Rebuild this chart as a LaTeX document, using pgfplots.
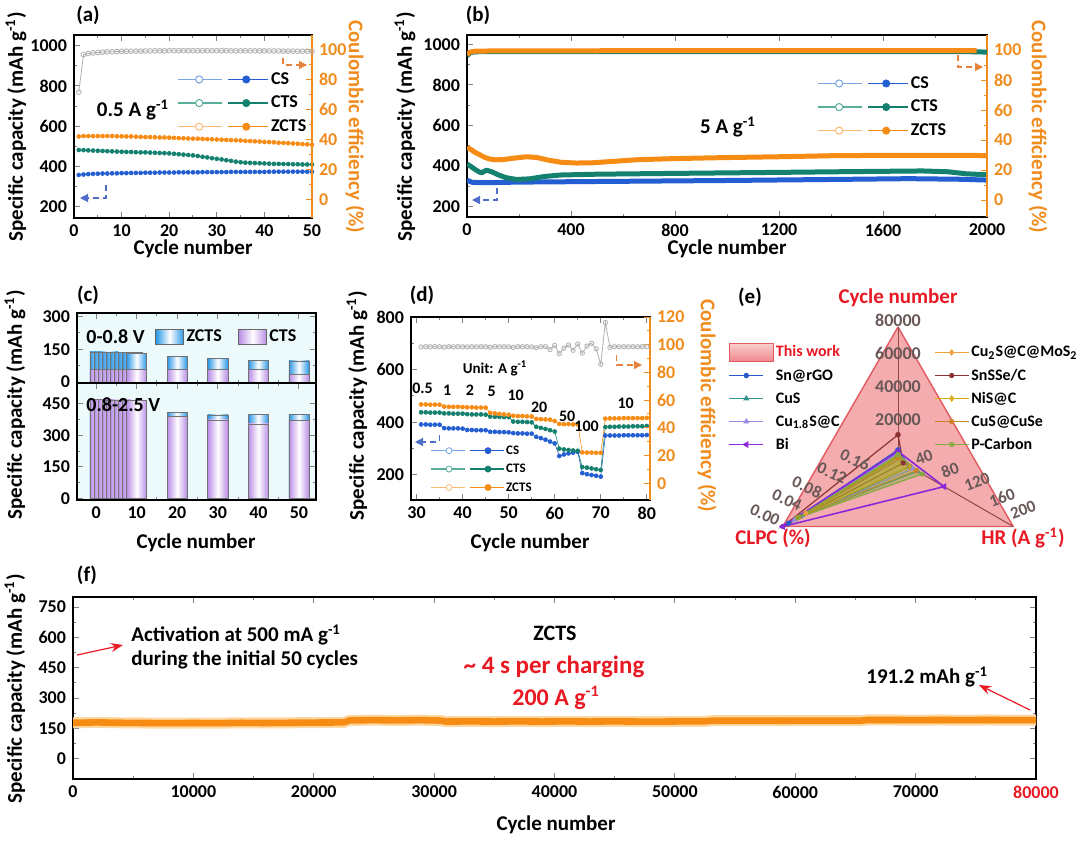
\documentclass[border=0pt]{standalone}
\usepackage{fontspec}
\setmainfont{Carlito}
\usepackage{pgfplots}
\usepackage{pgfplotstable}
\pgfplotsset{compat=1.18}
\usepgfplotslibrary{polar}
\usetikzlibrary{arrows.meta}

\definecolor{csblue}{RGB}{35,95,210}
\definecolor{csblueL}{RGB}{120,165,230}
\definecolor{ctsteal}{RGB}{20,128,110}
\definecolor{ctstealL}{RGB}{90,175,155}
\definecolor{zorange}{RGB}{247,140,20}
\definecolor{zorangeL}{RGB}{250,185,115}
\definecolor{zglow}{RGB}{255,215,160}
\definecolor{cegray}{RGB}{175,175,175}
\definecolor{axor}{RGB}{240,140,30}
\definecolor{zblue}{RGB}{40,150,230}
\definecolor{cpurple}{RGB}{185,140,230}
\definecolor{cbg}{RGB}{236,250,252}
\definecolor{thisred}{RGB}{225,90,95}
\definecolor{thispink}{RGB}{244,172,174}
\definecolor{thispinkL}{RGB}{250,205,205}
\definecolor{thispinkD}{RGB}{238,135,140}
\definecolor{spoke}{RGB}{150,70,70}
\definecolor{elab}{RGB}{105,88,88}
\definecolor{myred}{RGB}{232,25,35}
\definecolor{arrblue}{RGB}{80,110,200}
\definecolor{arror}{RGB}{230,130,60}
\definecolor{mSn}{RGB}{40,90,200}
\definecolor{mCuS}{RGB}{50,150,140}
\definecolor{mCuoneS}{RGB}{150,140,230}
\definecolor{mBi}{RGB}{140,40,220}
\definecolor{mCuMo}{RGB}{240,160,60}
\definecolor{mSnSSe}{RGB}{140,50,50}
\definecolor{mNiS}{RGB}{220,170,0}
\definecolor{mCuSe}{RGB}{205,130,40}
\definecolor{mPC}{RGB}{130,170,60}

\pgfplotstableread{
x y
0 178
2000 180
4000 178
6000 177
8000 176
10000 177
12000 176
14000 178
16000 177
18000 178
20000 179
22500 180
23000 190
25000 191
27000 190
29000 191
30500 189
31000 184
33000 185
35000 184
37000 185
39000 184
41000 185
43000 184
45000 185
47000 184
49000 184
51000 185
52500 185
53000 188
55000 189
57000 189
59000 188
61000 189
63000 189
65500 189
66000 192
68000 192
70000 191
72000 192
74000 191
76000 192
78000 191
80000 191.2
}\fdata

\newcommand{\tickfont}{\bfseries\fontsize{9}{10}\selectfont}
\newcommand{\labfont}{\bfseries\fontsize{10.5}{12}\selectfont}
\newcommand{\radfont}{\bfseries\fontsize{8.5}{9}\selectfont}
\tikzset{lab/.style={font=\labfont, inner sep=0.5pt}}

\pgfplotsset{
  myaxis/.style={scale only axis, anchor=north west,
    tick label style={font=\tickfont},
    /pgf/number format/assume math mode=true,
    /pgf/number format/1000 sep={},
    scaled ticks=false,
    tick align=inside, major tick length=3pt, minor tick length=1.6pt,
    axis line style={line width=0.7pt},
    every tick/.append style={line width=0.5pt},
    legend cell align=left,
  },
  rightaxis/.style={axis x line=none, axis y line*=right,
    y axis line style={axor, line width=0.7pt},
    ytick style={axor, line width=0.5pt},
    yticklabel style={text=axor}},
  legA/.style n args={2}{legend image code/.code={%
     \draw[#2, line width=0.8pt] (0pt,0pt) -- (22pt,0pt);
     \draw[#1, line width=0.8pt] (25pt,0pt) -- (45pt,0pt);
     \draw[#2, fill=white, line width=0.5pt] (10.5pt,0pt) circle (1.8pt);
     \fill[#1] (34pt,0pt) circle (1.8pt);}},
  legD/.style n args={2}{legend image code/.code={%
     \draw[#2, line width=0.6pt] (0pt,0pt) -- (17pt,0pt);
     \draw[#1, line width=0.6pt] (19.5pt,0pt) -- (36.5pt,0pt);
     \draw[#2, fill=white, line width=0.4pt] (9pt,0pt) circle (1.5pt);
     \fill[#1] (28.5pt,0pt) circle (1.5pt);}},
  zb/.style={forget plot, ybar, bar width=5, bar shift=0pt, draw=black!55, line width=0.3pt,
     left color=zblue, right color=zblue, middle color=white},
  cb/.style={forget plot, ybar, bar width=5, bar shift=0pt, draw=black!55, line width=0.3pt,
     left color=cpurple, right color=cpurple, middle color=white},
}

\begin{document}
\begin{tikzpicture}
\useasboundingbox (0pt,0pt) rectangle (540pt,-420pt);

% ---------------- (a) ----------------
\begin{axis}[myaxis, at={(37pt,-17.5pt)}, width=119pt, height=91.5pt,
  xmin=0, xmax=50, ymin=144, ymax=1053,
  xtick={0,10,20,30,40,50}, minor x tick num=1,
  ytick={200,400,600,800,1000}, minor y tick num=1, ytick pos=left,
  legend style={at={(0.433,0.628)}, anchor=west, draw=none, fill=none, inner sep=0pt,
    row sep=2pt, font=\bfseries\fontsize{9}{10}\selectfont,
    nodes={inner sep=1pt, text height=6.3pt, text depth=1.5pt}}]
\addplot[forget plot, csblue, line width=0.3pt, mark=*, mark size=1pt] coordinates {
(1,358)(2,360)(3,362)(4,363)(5,364)(6,365)(7,365)(8,366)(9,366)(10,367)(11,367)(12,368)(13,368)(14,368)(15,369)(16,369)(17,369)(18,370)(19,370)(20,370)(21,370)(22,371)(23,371)(24,371)(25,371)(26,371)(27,372)(28,372)(29,372)(30,372)(31,372)(32,372)(33,373)(34,373)(35,373)(36,373)(37,373)(38,373)(39,373)(40,373)(41,374)(42,374)(43,374)(44,374)(45,374)(46,374)(47,374)(48,374)(49,374)(50,374)};
\addplot[forget plot, ctsteal, line width=0.3pt, mark=*, mark size=1pt] coordinates {
(1,482)(2,481)(3,480)(4,479)(5,478)(6,477)(7,476)(8,475)(9,474)(10,473)(11,472)(12,472)(13,471)(14,470)(15,470)(16,469)(17,468)(18,467)(19,466)(20,465)(21,463)(22,461)(23,459)(24,457)(25,455)(26,452)(27,448)(28,445)(29,441)(30,438)(31,435)(32,431)(33,428)(34,424)(35,421)(36,419)(37,418)(38,417)(39,416)(40,415)(41,414)(42,413)(43,413)(44,412)(45,412)(46,411)(47,411)(48,410)(49,410)(50,410)};
\addplot[forget plot, zorange, line width=0.3pt, mark=*, mark size=1pt] coordinates {
(1,549)(2,551)(3,551)(4,551)(5,551)(6,551)(7,551)(8,551)(9,550)(10,550)(11,549)(12,549)(13,548)(14,547)(15,546)(16,546)(17,545)(18,544)(19,544)(20,543)(21,542)(22,541)(23,540)(24,539)(25,538)(26,538)(27,537)(28,536)(29,535)(30,534)(31,533)(32,532)(33,531)(34,530)(35,529)(36,527)(37,526)(38,525)(39,524)(40,522)(41,521)(42,520)(43,518)(44,517)(45,516)(46,514)(47,513)(48,511)(49,510)(50,508)};
\addlegendimage{legA={csblue}{csblueL}}\addlegendentry{CS}
\addlegendimage{legA={ctsteal}{ctstealL}}\addlegendentry{CTS}
\addlegendimage{legA={zorange}{zorangeL}}\addlegendentry{ZCTS}
\end{axis}
\begin{axis}[myaxis, rightaxis, at={(37pt,-17.5pt)}, width=119pt, height=91.5pt,
  xmin=0, xmax=50, ymin=-12, ymax=109.5, ytick={0,20,40,60,80,100}, minor y tick num=1]
\addplot[cegray, line width=0.4pt, mark=o, mark size=1.2pt, mark options={fill=white}] coordinates {
(1,71.5)(2,96.5)(3,97.2)(4,97.6)(5,97.9)(6,98.1)(7,98.3)(8,98.4)(9,98.5)(10,98.6)(11,98.7)(12,98.7)(13,98.8)(14,98.8)(15,98.9)(16,98.9)(17,99)(18,99)(19,99)(20,99.1)(21,99.1)(22,99.1)(23,99.1)(24,99.1)(25,99.1)(26,99.1)(27,99.1)(28,99.1)(29,99.1)(30,99.1)(31,99.1)(32,99.1)(33,99)(34,99)(35,99)(36,99)(37,99)(38,99)(39,99)(40,99)(41,98.9)(42,98.9)(43,98.9)(44,98.8)(45,98.8)(46,98.8)(47,98.7)(48,98.7)(49,98.7)(50,98.6)};
\end{axis}

% ---------------- (b) ----------------
\begin{axis}[myaxis, at={(233.5pt,-17.5pt)}, width=260pt, height=91pt,
  xmin=0, xmax=2000, ymin=149, ymax=1046,
  xtick={0,400,800,1200,1600,2000}, minor x tick num=1,
  ytick={200,400,600,800,1000}, minor y tick num=1, ytick pos=left,
  legend style={at={(0.673,0.604)}, anchor=west, draw=none, fill=none, inner sep=0pt,
    row sep=2pt, font=\bfseries\fontsize{9}{10}\selectfont,
    nodes={inner sep=1pt, text height=6.3pt, text depth=1.5pt}}]
\addplot[forget plot, csblue, line width=2.5pt, line join=round] coordinates {
(0,330)(20,320)(60,318)(200,321)(600,325)(1000,329)(1400,334)(1700,338)(1900,335)(2000,331)};
\addplot[forget plot, ctsteal, line width=2.5pt, line join=round] coordinates {
(0,410)(15,398)(35,380)(55,366)(75,380)(95,372)(120,357)(150,343)(190,334)(240,337)(300,349)(360,356)(500,360)(800,364)(1200,369)(1500,373)(1750,376)(1850,372)(1920,362)(2000,357)};
\addplot[forget plot, zorange, line width=2.5pt, line join=round] coordinates {
(0,492)(15,482)(30,468)(50,455)(70,442)(90,434)(110,431)(140,432)(180,439)(230,446)(270,442)(310,430)(360,419)(420,415)(480,416)(560,423)(650,431)(800,437)(1000,442)(1200,446)(1400,451)(1600,453)(1800,453)(2000,452)};
\addlegendimage{legA={csblue}{csblueL}}\addlegendentry{CS}
\addlegendimage{legA={ctsteal}{ctstealL}}\addlegendentry{CTS}
\addlegendimage{legA={zorange}{zorangeL}}\addlegendentry{ZCTS}
\end{axis}
\begin{axis}[myaxis, rightaxis, at={(233.5pt,-17.5pt)}, width=260pt, height=91pt,
  xmin=0, xmax=2000, ymin=-11.3, ymax=110, ytick={0,20,40,60,80,100}, minor y tick num=1]
\addplot[ctsteal, line width=2.5pt, line join=round] coordinates {(0,96)(10,98)(30,98.8)(100,99)(1000,99)(1900,99)(2000,98.6)};
\addplot[zorange, line width=2.5pt, line join=round] coordinates {(0,97)(10,98.5)(30,99.2)(100,99.4)(500,99.5)(1000,99.6)(1500,99.6)(1960,99.6)};
\end{axis}

% ---------------- (c) top ----------------
\begin{axis}[myaxis, at={(38.5pt,-156.5pt)}, width=119.5pt, height=35pt,
  xmin=-4.7, xmax=54.2, ymin=-4, ymax=316,
  xtick={0,10,20,30,40,50}, xticklabels={}, minor x tick num=1,
  ytick={0,150,300}, minor y tick num=1,
  axis background/.style={fill=cbg},
  legend columns=2,
  legend style={at={(0.326,0.66)}, anchor=west, draw=none, fill=none, inner sep=0pt,
    font=\bfseries\fontsize{9}{10}\selectfont,
    nodes={inner sep=1.2pt, text height=6.3pt, text depth=1.5pt},
    /tikz/every even column/.append style={column sep=7pt}}]
\addplot[zb] coordinates {(1,138)};
\addplot[zb] coordinates {(2,138)};
\addplot[zb] coordinates {(3,138)};
\addplot[zb] coordinates {(4,137)};
\addplot[zb] coordinates {(5,137)};
\addplot[zb] coordinates {(6,137)};
\addplot[zb] coordinates {(7,136)};
\addplot[zb] coordinates {(8,136)};
\addplot[zb] coordinates {(9,135)};
\addplot[zb] coordinates {(10,132)};
\addplot[zb] coordinates {(20,119)};
\addplot[zb] coordinates {(30,108)};
\addplot[zb] coordinates {(40,100)};
\addplot[zb] coordinates {(50,97)};
\addplot[cb] coordinates {(1,60)};
\addplot[cb] coordinates {(2,60)};
\addplot[cb] coordinates {(3,60)};
\addplot[cb] coordinates {(4,60)};
\addplot[cb] coordinates {(5,60)};
\addplot[cb] coordinates {(6,60)};
\addplot[cb] coordinates {(7,60)};
\addplot[cb] coordinates {(8,60)};
\addplot[cb] coordinates {(9,60)};
\addplot[cb] coordinates {(10,58)};
\addplot[cb] coordinates {(20,58)};
\addplot[cb] coordinates {(30,58)};
\addplot[cb] coordinates {(40,58)};
\addplot[cb] coordinates {(50,37)};
\addlegendimage{legend image code/.code={\draw[draw=black!60, line width=0.4pt, left color=zblue, right color=zblue, middle color=white] (0pt,-3.7pt) rectangle (14pt,3.7pt);}}
\addlegendentry{ZCTS}
\addlegendimage{legend image code/.code={\draw[draw=black!60, line width=0.4pt, left color=cpurple, right color=cpurple, middle color=white] (0pt,-3.7pt) rectangle (14pt,3.7pt);}}
\addlegendentry{CTS}
\end{axis}

% ---------------- (c) bottom ----------------
\begin{axis}[myaxis, at={(38.5pt,-191.5pt)}, width=119.5pt, height=58.5pt,
  xmin=-4.7, xmax=54.2, ymin=-8, ymax=550,
  xtick={0,10,20,30,40,50}, minor x tick num=1,
  ytick={0,150,300,450}, minor y tick num=1,
  axis background/.style={fill=cbg}]
\addplot[zb] coordinates {(1,466)};
\addplot[zb] coordinates {(2,466)};
\addplot[zb] coordinates {(3,466)};
\addplot[zb] coordinates {(4,466)};
\addplot[zb] coordinates {(5,466)};
\addplot[zb] coordinates {(6,466)};
\addplot[zb] coordinates {(7,466)};
\addplot[zb] coordinates {(8,466)};
\addplot[zb] coordinates {(9,466)};
\addplot[zb] coordinates {(10,465)};
\addplot[zb] coordinates {(20,409)};
\addplot[zb] coordinates {(30,398)};
\addplot[zb] coordinates {(40,402)};
\addplot[zb] coordinates {(50,400)};
\addplot[cb] coordinates {(1,470)};
\addplot[cb] coordinates {(2,470)};
\addplot[cb] coordinates {(3,470)};
\addplot[cb] coordinates {(4,469)};
\addplot[cb] coordinates {(5,469)};
\addplot[cb] coordinates {(6,469)};
\addplot[cb] coordinates {(7,468)};
\addplot[cb] coordinates {(8,468)};
\addplot[cb] coordinates {(9,467)};
\addplot[cb] coordinates {(10,466)};
\addplot[cb] coordinates {(20,392)};
\addplot[cb] coordinates {(30,374)};
\addplot[cb] coordinates {(40,355)};
\addplot[cb] coordinates {(50,371)};
\end{axis}

% ---------------- (d) ----------------
\begin{axis}[myaxis, at={(205.5pt,-158.5pt)}, width=119.5pt, height=91.5pt,
  xmin=28.8, xmax=80.7, ymin=105, ymax=800,
  xtick={30,40,50,60,70,80}, minor x tick num=1,
  ytick={200,400,600,800}, minor y tick num=1, ytick pos=left,
  legend style={at={(0.0795,0.169)}, anchor=west, draw=none, fill=none, inner sep=0pt,
    row sep=1.4pt, font=\bfseries\fontsize{6.5}{7}\selectfont,
    nodes={inner sep=0.8pt, text height=5pt, text depth=1.2pt}}]
\addplot[forget plot, csblue, line width=0.3pt, mark=*, mark size=1pt] coordinates {
(31,392)(32,392)(33,391)(34,391)(35,391)(36,378)(37,377)(38,377)(39,377)(40,376)(41,371)(42,371)(43,370)(44,370)(45,370)(46,364)(47,364)(48,363)(49,363)(50,362)(51,359)(52,358)(53,358)(54,357)(55,357)(56,345)(57,340)(58,334)(59,327)(60,320)(61,272)(62,278)(63,282)(64,285)(65,288)(66,207)(67,203)(68,200)(69,197)(70,194)(71,350)(72,350)(73,350)(74,350)(75,351)(76,351)(77,351)(78,351)(79,351)(80,352)};
\addplot[forget plot, ctsteal, line width=0.3pt, mark=*, mark size=1pt] coordinates {
(31,438)(32,438)(33,437)(34,437)(35,437)(36,434)(37,434)(38,433)(39,433)(40,433)(41,431)(42,430)(43,430)(44,430)(45,429)(46,422)(47,421)(48,421)(49,420)(50,420)(51,403)(52,402)(53,402)(54,401)(55,400)(56,383)(57,379)(58,375)(59,370)(60,365)(61,300)(62,297)(63,295)(64,293)(65,292)(66,230)(67,228)(68,225)(69,222)(70,219)(71,382)(72,383)(73,383)(74,384)(75,384)(76,384)(77,385)(78,385)(79,385)(80,386)};
\addplot[forget plot, zorange, line width=0.3pt, mark=*, mark size=1pt] coordinates {
(31,468)(32,468)(33,467)(34,467)(35,467)(36,460)(37,459)(38,459)(39,459)(40,458)(41,457)(42,457)(43,456)(44,456)(45,456)(46,436)(47,434)(48,432)(49,430)(50,429)(51,425)(52,424)(53,424)(54,423)(55,422)(56,413)(57,412)(58,411)(59,410)(60,405)(61,394)(62,393)(63,393)(64,392)(65,392)(66,286)(67,285)(68,285)(69,284)(70,284)(71,414)(72,415)(73,415)(74,415)(75,416)(76,416)(77,416)(78,416)(79,416)(80,417)};
\addlegendimage{legD={csblue}{csblueL}}\addlegendentry{CS}
\addlegendimage{legD={ctsteal}{ctstealL}}\addlegendentry{CTS}
\addlegendimage{legD={zorange}{zorangeL}}\addlegendentry{ZCTS}
\end{axis}
\begin{axis}[myaxis, rightaxis, at={(205.5pt,-158.5pt)}, width=119.5pt, height=91.5pt,
  xmin=28.8, xmax=80.7, ymin=-12.1, ymax=120, ytick={0,20,40,60,80,100,120}, minor y tick num=1]
\addplot[cegray, line width=0.4pt, mark=o, mark size=1.1pt, mark options={fill=white}] coordinates {
(31,98.4)(32,98.6)(33,98.5)(34,98.6)(35,98.5)(36,98.3)(37,98.6)(38,98.5)(39,98.6)(40,98.5)(41,98.4)(42,98.6)(43,98.5)(44,98.6)(45,98.5)(46,98.2)(47,98.6)(48,98.5)(49,98.6)(50,98.5)(51,98.1)(52,98.6)(53,98.5)(54,98.6)(55,98.4)(56,97.8)(57,98.5)(58,98.6)(59,96.5)(60,99.5)(61,93.5)(62,97.5)(63,99.8)(64,96)(65,100.5)(66,94)(67,99)(68,101)(69,97)(70,86)(71,116)(72,98)(73,98.6)(74,98.5)(75,98.6)(76,98.5)(77,98.6)(78,98.5)(79,98.6)(80,98.5)};
\end{axis}

% ---------------- (e) radar, data in polar cs (angle, normalised radius) ----------------
\begin{axis}[at={(382.5pt,-163.5pt)}, anchor=north west, scale only axis, width=133pt, height=133pt,
  hide axis, xmin=-1, xmax=1, ymin=-1, ymax=1, clip=false, data cs=polar,
  legend columns=2, legend cell align=left,
  legend style={at={(-0.139,0.942)}, anchor=north west, draw=none, fill=none, inner sep=0pt,
    row sep=2pt, font=\bfseries\fontsize{8}{9}\selectfont,
    nodes={inner sep=1pt, text height=6pt, text depth=1.5pt},
    /tikz/every even column/.append style={column sep=46pt}}]
\addplot[draw=thisred, fill=thispink, line width=0.7pt,
  legend image code/.code={\draw[draw=thisred, line width=0.6pt, top color=thispinkL, bottom color=thispinkD] (0pt,-4.5pt) rectangle (22pt,4.5pt);}]
  coordinates {(90,1) (210,1) (330,1) (90,1)};
\addlegendentry{\textcolor{myred}{This work}}
\addplot[forget plot, spoke, line width=0.5pt] coordinates {(90,0) (90,1)};
\addplot[forget plot, spoke, line width=0.5pt] coordinates {(210,0) (210,1)};
\addplot[forget plot, spoke, line width=0.5pt] coordinates {(330,0) (330,1)};
\addplot[mCuMo, line width=0.6pt, mark=diamond*, mark size=1.2pt] coordinates {(90,0.02) (210,0.80) (330,0.13) (90,0.02)};
\addlegendentry{Cu\textsubscript{2}S@C@MoS\textsubscript{2}}
\addplot[mSn, line width=0.7pt, mark=*, mark size=1pt] coordinates {(90,0.075) (210,0.95) (330,0.10) (90,0.075)};
\addlegendentry{Sn@rGO}
\addplot[mSnSSe, line width=0.6pt, mark=*, mark size=1pt] coordinates {(90,0.19) (210,1.0) (330,0.045) (90,0.19)};
\addlegendentry{SnSSe/C}
\addplot[mCuS, line width=0.6pt, mark=triangle*, mark size=1.2pt] coordinates {(90,0.035) (210,0.85) (330,0.17) (90,0.035)};
\addlegendentry{CuS}
\addplot[mNiS, line width=0.6pt, fill=mNiS, fill opacity=0.45, mark=diamond*, mark size=1.2pt] coordinates {(90,0.03) (210,0.88) (330,0.10) (90,0.03)};
\addlegendentry{NiS@C}
\addplot[mCuoneS, line width=0.6pt, mark=triangle*, mark size=1.2pt] coordinates {(90,0.05) (210,0.90) (330,0.13) (90,0.05)};
\addlegendentry{Cu\textsubscript{1.8}S@C}
\addplot[mCuSe, line width=0.6pt, mark=*, mark size=1pt] coordinates {(90,0.02) (210,0.86) (330,0.16) (90,0.02)};
\addlegendentry{CuS@CuSe}
\addplot[mBi, line width=0.8pt, mark=triangle*, mark size=1.2pt, mark options={rotate=90}] coordinates {(90,0.065) (210,1.0) (330,0.40) (90,0.065)};
\addlegendentry{Bi}
\addplot[mPC, line width=0.6pt, fill=mPC, fill opacity=0.4, mark=*, mark size=1pt] coordinates {(90,0.04) (210,0.87) (330,0.21) (90,0.04)};
\addlegendentry{P-Carbon}
\end{axis}

% ---------------- (f) ----------------
\begin{axis}[myaxis, at={(36.5pt,-298.5pt)}, width=481.5pt, height=91pt,
  xmin=0, xmax=80000, ymin=-100, ymax=800,
  xtick={0,10000,20000,30000,40000,50000,60000,70000,80000},
  xticklabels={0,10000,20000,30000,40000,50000,60000,70000,\textcolor{myred}{80000}},
  minor x tick num=1,
  ytick={0,150,300,450,600,750}, minor y tick num=1]
\addplot[zglow, line width=5.5pt, line join=round] table {\fdata};
\addplot[zorange, line width=3.3pt, line join=round] table {\fdata};
\end{axis}

% ---------------- texts ----------------
\node[lab] at (44pt,-7.5pt) {(a)};
\node[lab] at (239pt,-7.5pt) {(b)};
\node[lab] at (44pt,-147.5pt) {(c)};
\node[lab] at (211pt,-147.5pt) {(d)};
\node[lab] at (375pt,-148.5pt) {(e)};
\node[lab] at (43.5pt,-287.5pt) {(f)};

\node[lab, rotate=90] at (8pt,-63.5pt) {Specific capacity (mAh g\textsuperscript{-1})};
\node[lab, rotate=90] at (202.5pt,-63.5pt) {Specific capacity (mAh g\textsuperscript{-1})};
\node[lab, rotate=90] at (7.5pt,-202.5pt) {Specific capacity (mAh g\textsuperscript{-1})};
\node[lab, rotate=90] at (178.5pt,-203pt) {Specific capacity (mAh g\textsuperscript{-1})};
\node[lab, rotate=90] at (7.5pt,-344.5pt) {Specific capacity (mAh g\textsuperscript{-1})};
\node[lab, rotate=-90, text=axor] at (177.5pt,-63.5pt) {Coulombic efficiency (\%)};
\node[lab, rotate=-90, text=axor] at (519pt,-63.5pt) {Coulombic efficiency (\%)};
\node[lab, rotate=-90, text=axor] at (353.5pt,-203pt) {Coulombic efficiency (\%)};

\node[lab] at (96.5pt,-124.5pt) {Cycle number};
\node[lab] at (363.5pt,-124.5pt) {Cycle number};
\node[lab] at (98pt,-271.5pt) {Cycle number};
\node[lab] at (265pt,-271.5pt) {Cycle number};
\node[lab] at (278pt,-412.5pt) {Cycle number};

\node[lab] at (66.5pt,-55pt) {0.5 A g\textsuperscript{-1}};
\node[lab] at (364pt,-63.5pt) {5 A g\textsuperscript{-1}};
\node[font=\bfseries\fontsize{10}{11}\selectfont, anchor=west, inner sep=0.5pt] at (42.5pt,-168.5pt) {0-0.8 V};
\node[font=\bfseries\fontsize{10}{11}\selectfont, anchor=west, inner sep=0.5pt] at (42.5pt,-202.5pt) {0.8-2.5 V};

\node[font=\bfseries\fontsize{7.5}{8}\selectfont, inner sep=0.5pt] at (247.5pt,-184pt) {Unit: A g\textsuperscript{-1}};
\begin{scope}[every node/.style={font=\bfseries\fontsize{8}{9}\selectfont, inner sep=0.5pt}]
\node at (211.3pt,-194.2pt) {0.5};
\node at (223.6pt,-195pt) {1};
\node at (235pt,-195.3pt) {2};
\node at (245.8pt,-195.5pt) {5};
\node at (257.8pt,-197.5pt) {10};
\node at (269.6pt,-203.8pt) {20};
\node at (283.6pt,-208.3pt) {50};
\node at (293.3pt,-213.3pt) {100};
\node at (312.8pt,-201.6pt) {10};
\end{scope}

% dashed indicator arrows
\draw[arrblue, densely dashed, line width=0.6pt, -{Triangle[length=4pt,width=4pt]}] (53pt,-92.5pt) -- (53pt,-99pt) -- (40pt,-99pt);
\draw[arror, densely dashed, line width=0.6pt, -{Triangle[length=4pt,width=4pt]}] (141.5pt,-29pt) -- (141.5pt,-32.5pt) -- (153.5pt,-32.5pt);
\draw[arrblue, densely dashed, line width=0.6pt, -{Triangle[length=4pt,width=4pt]}] (248.5pt,-94pt) -- (248.5pt,-100pt) -- (236pt,-100pt);
\draw[arror, densely dashed, line width=0.6pt, -{Triangle[length=4pt,width=4pt]}] (479pt,-27.5pt) -- (479pt,-33.5pt) -- (491.5pt,-33.5pt);
\draw[arrblue, densely dashed, line width=0.6pt, -{Triangle[length=4pt,width=4pt]}] (219.7pt,-217.5pt) -- (219.7pt,-221pt) -- (207.5pt,-221pt);
\draw[arror, densely dashed, line width=0.6pt, -{Triangle[length=4pt,width=4pt]}] (308.3pt,-177.5pt) -- (308.3pt,-182.5pt) -- (321pt,-182.5pt);

% (e) texts
\node[lab, text=myred] at (449pt,-149pt) {Cycle number};
\node[lab, text=myred] at (386.5pt,-269pt) {CLPC (\%)};
\node[lab, text=myred] at (511.5pt,-269pt) {HR (A g\textsuperscript{-1})};
\begin{scope}[every node/.style={font=\tickfont, text=elab, inner sep=0.5pt}]
\node at (449pt,-160pt) {80000};
\node at (449pt,-176.5pt) {60000};
\node at (449pt,-193.5pt) {40000};
\node at (449pt,-210pt) {20000};
\end{scope}
\begin{scope}[every node/.style={font=\radfont, text=elab, inner sep=0pt}]
\node[rotate=20] at (462pt,-228.5pt) {40};
\node[rotate=20] at (475pt,-235pt) {80};
\node[rotate=20] at (488.5pt,-241pt) {120};
\node[rotate=20] at (501pt,-249pt) {160};
\node[rotate=20] at (511.5pt,-255pt) {200};
\node[rotate=-25] at (427.5pt,-230pt) {0.16};
\node[rotate=-25] at (416pt,-236.5pt) {0.12};
\node[rotate=-25] at (403.5pt,-243.5pt) {0.08};
\node[rotate=-25] at (393.5pt,-250pt) {0.04};
\node[rotate=-25] at (382.5pt,-257.5pt) {0.00};
\end{scope}

% (f) texts
\node[font=\bfseries\fontsize{10.5}{12}\selectfont, anchor=west, inner sep=0.5pt] at (65pt,-317.5pt) {Activation at 500 mA g\textsuperscript{-1}};
\node[font=\bfseries\fontsize{10.5}{12}\selectfont, anchor=west, inner sep=0.5pt] at (65pt,-330pt) {during the initial 50 cycles};
\draw[myred, line width=0.6pt, -{Stealth[length=6pt,width=4.5pt]}] (38.5pt,-327.5pt) -- (61.5pt,-322.5pt);
\node[font=\bfseries\fontsize{11}{12}\selectfont, inner sep=0.5pt] at (277.5pt,-316.5pt) {ZCTS};
\node[font=\bfseries\fontsize{12.5}{14}\selectfont, text=myred, inner sep=0.5pt] at (277pt,-333.5pt) {\char`\~{} 4 s per charging};
\node[font=\bfseries\fontsize{12}{14}\selectfont, text=myred, inner sep=0.5pt] at (278pt,-349pt) {200 A g\textsuperscript{-1}};
\node[font=\bfseries\fontsize{10.5}{12}\selectfont, anchor=west, inner sep=0.5pt] at (432.5pt,-338.5pt) {191.2 mAh g\textsuperscript{-1}};
\draw[myred, line width=0.6pt, -{Stealth[length=6pt,width=4.5pt]}] (515pt,-355pt) -- (489.5pt,-342.5pt);
\end{tikzpicture}
\end{document}
